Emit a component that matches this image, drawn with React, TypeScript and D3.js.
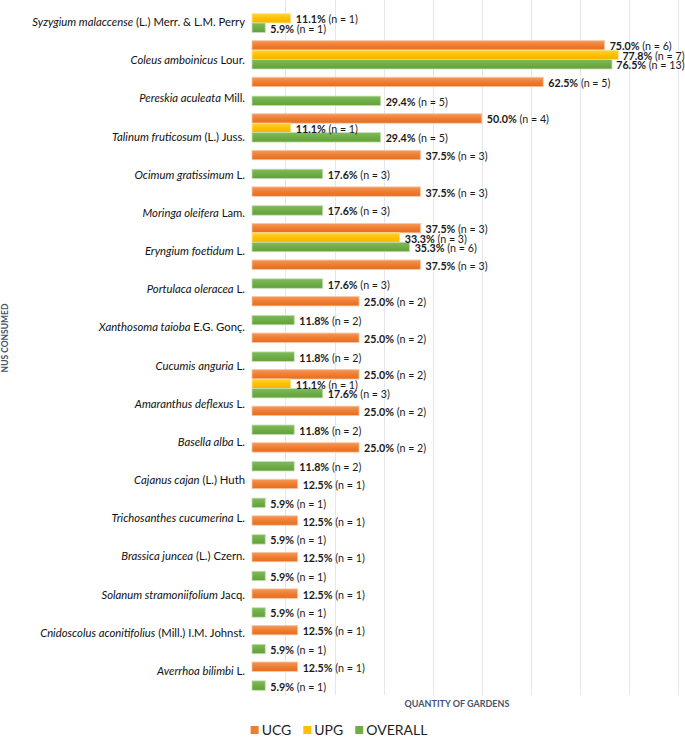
import React, { useEffect, useRef } from "react";
import * as d3 from "d3";

// ---- Data ----
const labelItalic = [
  "Syzygium malaccense",
  "Coleus amboinicus",
  "Pereskia aculeata",
  "Talinum fruticosum",
  "Ocimum gratissimum",
  "Moringa oleifera",
  "Eryngium foetidum",
  "Portulaca oleracea",
  "Xanthosoma taioba",
  "Cucumis anguria",
  "Amaranthus deflexus",
  "Basella alba",
  "Cajanus cajan",
  "Trichosanthes cucumerina",
  "Brassica juncea",
  "Solanum stramoniifolium",
  "Cnidoscolus aconitifolius",
  "Averrhoa bilimbi",
];
const labelAuthor = [
  " (L.) Merr. & L.M. Perry",
  " Lour.",
  " Mill.",
  " (L.) Juss.",
  " L.",
  " Lam.",
  " L.",
  " L.",
  " E.G. Gonç.",
  " L.",
  " L.",
  " L.",
  " (L.) Huth",
  " L.",
  " (L.) Czern.",
  " Jacq.",
  " (Mill.) I.M. Johnst.",
  " L.",
];

// bar groups (19 rows as drawn in the reference)
const ucgPct = [null, 75.0, 62.5, 50.0, 37.5, 37.5, 37.5, 37.5, 25.0, 25.0, 25.0, 25.0, 25.0, 12.5, 12.5, 12.5, 12.5, 12.5, 12.5];
const ucgN = [null, 6, 5, 4, 3, 3, 3, 3, 2, 2, 2, 2, 2, 1, 1, 1, 1, 1, 1];
const upgPct = [11.1, 77.8, null, 11.1, null, null, 33.3, null, null, null, 11.1, null, null, null, null, null, null, null, null];
const upgN = [1, 7, null, 1, null, null, 3, null, null, null, 1, null, null, null, null, null, null, null, null];
const overallPct = [5.9, 76.5, 29.4, 29.4, 17.6, 17.6, 35.3, 17.6, 11.8, 11.8, 17.6, 11.8, 11.8, 5.9, 5.9, 5.9, 5.9, 5.9, 5.9];
const overallN = [1, 13, 5, 5, 3, 3, 6, 3, 2, 2, 3, 2, 2, 1, 1, 1, 1, 1, 1];

const seriesNames = ["UCG", "UPG", "OVERALL"];
const gridTicks = [10, 20, 30, 40, 50, 60, 70, 80, 90];
const xMin = 3.2;
const xMax = 90;

const W = 685;
const H = 738;
const FONT = "Lato, 'Open Sans', sans-serif";

export default function App() {
  const ref = useRef<SVGSVGElement>(null);

  useEffect(() => {
    const svg = d3.select(ref.current);
    svg.selectAll("*").remove();
    const defs = svg.append("defs");

    const series = [
      { key: "UCG", pct: ucgPct, n: ucgN, stops: ["#f6995a", "#ef7d31", "#e56c1f"], stroke: "#f7c9a8", legend: "#ed7d31" },
      { key: "UPG", pct: upgPct, n: upgN, stops: ["#ffd43f", "#ffc000", "#f2b500"], stroke: "#ffe69a", legend: "#ffc000" },
      { key: "OVERALL", pct: overallPct, n: overallN, stops: ["#80bb5c", "#70ad47", "#62a03a"], stroke: "#c4dfb2", legend: "#70ad47" },
    ];
    series.forEach((s, i) => {
      const g = defs.append("linearGradient").attr("id", "g" + i)
        .attr("x1", 0).attr("y1", 0).attr("x2", 0).attr("y2", 1);
      s.stops.forEach((c, j) => g.append("stop").attr("offset", `${j * 50}%`).attr("stop-color", c));
    });

    const x = d3.scaleLinear().domain([xMin, xMax]).range([252, 678.3]);
    const y0 = d3.scaleBand<number>().domain(d3.range(ucgPct.length)).range([0, 694.4])
      .paddingInner(0.2257).paddingOuter(0.1128);
    const y1 = d3.scaleBand<string>().domain(seriesNames).range([0, y0.bandwidth()]);
    const yl = d3.scaleBand<number>().domain(d3.range(labelItalic.length)).range([2, 689]);

    // gridlines
    svg.append("g").selectAll("line").data(gridTicks).join("line")
      .attr("x1", (d) => Math.round(x(d)) + 0.5).attr("x2", (d) => Math.round(x(d)) + 0.5)
      .attr("y1", 0).attr("y2", 695)
      .attr("stroke", "#e4e8ee").attr("stroke-width", 1);

    // bars
    const barG = svg.append("g");
    series.forEach((s, si) => {
      const rows = s.pct.map((v, i) => ({ v, n: s.n[i], i })).filter((d) => d.v != null);
      barG.append("g").selectAll("rect").data(rows).join("rect")
        .attr("x", x(xMin))
        .attr("y", (d) => y0(d.i)! + y1(s.key)!)
        .attr("width", (d) => x(d.v as number) - x(xMin))
        .attr("height", y1.bandwidth())
        .attr("fill", `url(#g${si})`)
        .attr("stroke", s.stroke).attr("stroke-width", 0.8);
    });

    // value labels
    const lblG = svg.append("g");
    series.forEach((s) => {
      const rows = s.pct.map((v, i) => ({ v, n: s.n[i], i })).filter((d) => d.v != null);
      rows.forEach((d) => {
        const t = lblG.append("text")
          .attr("y", y0(d.i)! + y1(s.key)! + y1.bandwidth() / 2)
          .attr("dominant-baseline", "central")
          .attr("font-family", FONT).attr("font-size", 10.7).attr("fill", "#1a1a1a");
        t.append("tspan").attr("font-weight", 700).text(`${(d.v as number).toFixed(1)}%`);
        t.append("tspan").text(` (n = ${d.n})`);
        const w = (t.node() as SVGTextElement).getComputedTextLength();
        const px = Math.min(x(d.v as number) + 5, 684.5 - w);
        t.attr("x", px);
      });
    });

    // category labels
    const catG = svg.append("g");
    labelItalic.forEach((name, i) => {
      const t = catG.append("text")
        .attr("x", 245).attr("y", yl(i)! + yl.bandwidth() / 2)
        .attr("text-anchor", "end").attr("dominant-baseline", "central")
        .attr("font-family", FONT).attr("font-size", 11.3).attr("fill", "#111");
      t.append("tspan").attr("font-style", "italic").text(name);
      t.append("tspan").text(labelAuthor[i]);
    });

    // axis titles
    svg.append("text").attr("x", 457).attr("y", 703).attr("text-anchor", "middle")
      .attr("dominant-baseline", "central")
      .attr("font-family", FONT).attr("font-size", 9).attr("font-weight", 700)
      .attr("fill", "#44546a").text("QUANTITY OF GARDENS");
    svg.append("text").attr("transform", "translate(5,338) rotate(-90)").attr("text-anchor", "middle")
      .attr("dominant-baseline", "central")
      .attr("font-family", FONT).attr("font-size", 8.5).attr("font-weight", 700)
      .attr("fill", "#44546a").text("NUS CONSUMED");

    // legend
    const legG = svg.append("g");
    const items: { sq: any; tx: any; w: number }[] = [];
    series.forEach((s) => {
      const sq = legG.append("rect").attr("width", 8).attr("height", 8).attr("fill", s.legend);
      const tx = legG.append("text").attr("font-family", FONT).attr("font-size", 14)
        .attr("fill", "#1e1e1e").attr("y", 734.5).text(s.key);
      const w = (tx.node() as SVGTextElement).getComputedTextLength();
      items.push({ sq, tx, w });
    });
    const gap = 12, sqW = 8, sqGap = 3;
    const total = d3.sum(items, (it) => sqW + sqGap + it.w) + gap * (items.length - 1);
    let cx = 339 - total / 2;
    items.forEach((it) => {
      it.sq.attr("x", cx).attr("y", 726);
      it.tx.attr("x", cx + sqW + sqGap);
      cx += sqW + sqGap + it.w + gap;
    });
  }, []);

  return <svg ref={ref} width={W} height={H} style={{ position: "absolute", left: 0, top: 0, background: "#fff" }} />;
}
